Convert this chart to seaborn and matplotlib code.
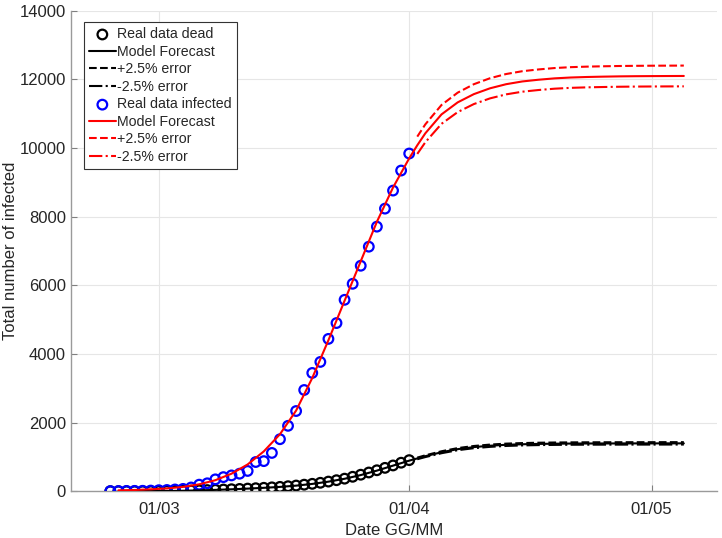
import matplotlib
matplotlib.use("Agg")
import matplotlib.pyplot as plt
import matplotlib.dates as mdates
import numpy as np
import pandas as pd
import seaborn as sns

# days are counted from 01/03/2020
START = pd.Timestamp("2020-03-01")

DATA_DAYS = list(range(-6, 32))
INFECTED = [3, 5, 8, 10, 12, 18,
            29, 35, 50, 67, 108, 190, 230, 345, 410, 460, 510, 590, 850, 876,
            1115, 1515, 1905, 2336, 2949, 3446, 3767, 4438, 4900, 5577, 6044,
            6570, 7125, 7709, 8234, 8760, 9344, 9840]
DEAD = [0, 0, 0, 0, 0, 1,
        3, 6, 10, 14, 19, 25, 32, 40, 48, 57, 66, 76, 87, 99,
        112, 126, 145, 165, 190, 215, 245, 280, 320, 365, 420,
        480, 545, 610, 680, 750, 830, 905]

MODEL_DAYS = [-5, -3, -1, 1, 3, 5, 7, 9, 11, 13, 15, 17, 19, 21, 23, 25, 27, 29, 31,
              32, 33, 35, 37, 39, 41, 43, 45, 47, 49, 51, 53, 55, 57, 59, 61, 63, 65]
MODEL_INFECTED = [25, 35, 55, 80, 125, 200, 320, 510, 780, 1160, 1660, 2350, 3300,
                  4400, 5550, 6700, 7850, 8850, 9700,
                  10080, 10430, 10980, 11330, 11570, 11740, 11860, 11940, 11990,
                  12030, 12055, 12070, 12080, 12088, 12093, 12096, 12098, 12100]
MODEL_DEAD = [1, 2, 3, 6, 13, 24, 38, 55, 75, 98, 125, 162, 212, 278, 362, 470, 600,
              745, 890,
              955, 1020, 1135, 1225, 1285, 1325, 1352, 1368, 1378, 1384, 1388, 1390,
              1391, 1392, 1393, 1393, 1394, 1394]

ERROR = 0.025        # +/-2.5% band drawn from the forecast start
FORECAST_FROM = 32   # first day of the error band

data = pd.DataFrame({
    "date": START + pd.to_timedelta(DATA_DAYS, unit="D"),
    "infected": INFECTED,
    "dead": DEAD,
})
model = pd.DataFrame({
    "date": START + pd.to_timedelta(MODEL_DAYS, unit="D"),
    "infected": MODEL_INFECTED,
    "dead": MODEL_DEAD,
})
band = model[np.array(MODEL_DAYS) >= FORECAST_FROM].copy()
for col in ["infected", "dead"]:
    band[col + "_hi"] = band[col] * (1 + ERROR)
    band[col + "_lo"] = band[col] * (1 - ERROR)

sns.set_theme(style="whitegrid")
plt.rcParams["font.family"] = ["Liberation Sans", "DejaVu Sans"]

fig = plt.figure(figsize=(7.22, 5.38), dpi=100)
ax = fig.add_axes([0.098, 0.087, 0.895, 0.893])

text_col = "#262626"
for series, col in [("dead", "black"), ("infected", "blue")]:
    line_col = "black" if series == "dead" else "red"
    name = "Real data dead" if series == "dead" else "Real data infected"
    sns.scatterplot(data=data, x="date", y=series, ax=ax, marker="o", s=48,
                    facecolor="none", edgecolor=col, linewidth=1.6, label=name,
                    zorder=3)
    sns.lineplot(data=model, x="date", y=series, ax=ax, color=line_col, lw=1.5,
                 label="Model Forecast", zorder=4)
    sns.lineplot(data=band, x="date", y=series + "_hi", ax=ax, color=line_col,
                 lw=1.5, ls="--", label="+2.5% error", zorder=4)
    sns.lineplot(data=band, x="date", y=series + "_lo", ax=ax, color=line_col,
                 lw=1.5, ls="-.", label="-2.5% error", zorder=4)

ax.set_xlim(START - pd.Timedelta(days=10.9), START + pd.Timedelta(days=69.1))
ax.set_ylim(0, 14000)
ax.set_yticks(range(0, 14001, 2000))
ax.xaxis.set_major_formatter(mdates.DateFormatter("%d/%m"))
ax.set_xticks([pd.Timestamp("2020-03-01"), pd.Timestamp("2020-04-01"),
               pd.Timestamp("2020-05-01")])

ax.set_xlabel("Date GG/MM", fontsize=12, color=text_col, labelpad=4)
ax.set_ylabel("Total number of infected", fontsize=12, color=text_col, labelpad=1)
ax.tick_params(axis="both", labelsize=12, labelcolor=text_col, direction="in",
               length=4, width=0.8, bottom=True, left=True, color="#808080")
ax.tick_params(axis="x", pad=8)
ax.grid(True, color="#e6e6e6", lw=0.8)
ax.set_facecolor("white")
for side in ["top", "right"]:
    ax.spines[side].set_visible(False)
for side in ["left", "bottom"]:
    ax.spines[side].set_color("#9a9a9a")
    ax.spines[side].set_linewidth(1.0)

leg = ax.legend(loc="upper left", bbox_to_anchor=(0.016, 0.982), fontsize=10.2,
                frameon=True, fancybox=False, framealpha=1, edgecolor="#333333",
                handlelength=1.9, handletextpad=0.1, borderpad=0.35,
                labelspacing=0.25, borderaxespad=0.2)
leg.get_frame().set_linewidth(0.8)

fig.savefig("out.png", dpi=100)
